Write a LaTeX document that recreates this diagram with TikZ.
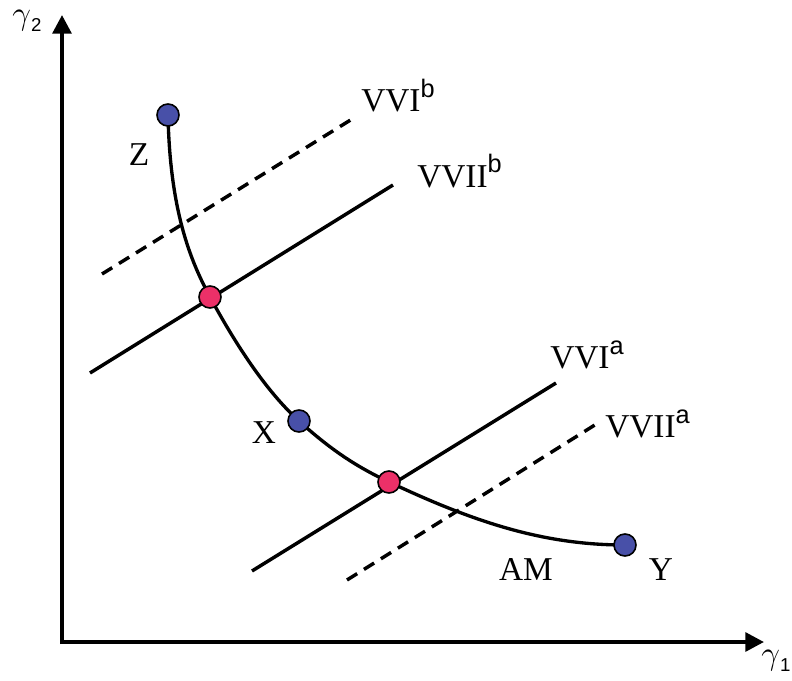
\documentclass[tikz,border=0pt]{standalone}
\usepackage{fontspec}
\setmainfont{Liberation Serif}
\setsansfont{Liberation Sans}
\usetikzlibrary{arrows.meta}
\definecolor{dotblue}{RGB}{72,80,168}
\definecolor{dotred}{RGB}{236,48,104}
\tikzset{
  axis/.style={line width=3pt,-{Triangle[length=14pt,width=14pt]}},
  curveline/.style={line width=2.5pt},
  solidline/.style={line width=2.6pt},
  dashline/.style={line width=2.6pt,dash pattern=on 9pt off 6pt},
  bdot/.style={circle,draw=black,line width=1.2pt,fill=dotblue,minimum size=16.5pt,inner sep=0pt},
  rdot/.style={circle,draw=black,line width=1.2pt,fill=dotred,minimum size=16.5pt,inner sep=0pt},
  lbl/.style={font=\fontsize{25}{28}\selectfont,inner sep=0pt},
  axlbl/.style={font=\fontsize{25}{27}\selectfont,inner sep=0pt},
}
\newcommand{\supx}[1]{\raisebox{0.42em}{\fontsize{19}{20}\selectfont\sffamily #1}}
\newcommand{\gsub}[1]{$\gamma$\raisebox{-0.2em}{\fontsize{14}{15}\selectfont\sffamily #1}}
\begin{document}
\begin{tikzpicture}[x=0.75pt,y=-0.75pt]
\useasboundingbox (0,0) rectangle (792,681);
% axes
\coordinate (O) at (62,642);
\coordinate (ytip) at (62,15);
\coordinate (xtip) at (764,642);
\draw[axis] ([yshift=-1.5pt]O) -- (ytip);
\draw[axis] ([xshift=-1.5pt]O) -- (xtip);
\node[axlbl] (g2) at (27,21) {\gsub{2}};
\node[axlbl] (g1) at (776,661) {\gsub{1}};
% lines
\coordinate (b1s) at (102,274); \coordinate (b1e) at (357,116);
\coordinate (b2s) at (90,373);  \coordinate (b2e) at (393,185);
\coordinate (a1s) at (252,571); \coordinate (a1e) at (556,383);
\coordinate (a2s) at (347,580); \coordinate (a2e) at (598,423);
\draw[dashline] (b1s) -- (b1e);
\draw[solidline] (b2s) -- (b2e);
\draw[solidline] (a1s) -- (a1e);
\draw[dashline] (a2s) -- (a2e);
% curve
\coordinate (Zp) at (168,115);
\coordinate (R1p) at (210,297);
\coordinate (Xp) at (299,421);
\coordinate (R2p) at (389,482);
\coordinate (Yp) at (625,545);
\draw[curveline] (Zp) .. controls (170,210) and (190,260) .. (R1p)
  .. controls (235,343) and (265,390) .. (Xp)
  .. controls (330,449) and (355,466) .. (R2p)
  .. controls (470,520) and (540,545) .. (Yp);
% dots
\node[bdot] (Z) at (Zp) {};
\node[bdot] (X) at (Xp) {};
\node[bdot] (Y) at (Yp) {};
\node[rdot] (R1) at (R1p) {};
\node[rdot] (R2) at (R2p) {};
% labels
\node[lbl] (zl) at (139,155) {Z};
\node[lbl] (xl) at (264,433) {X};
\node[lbl] (yl) at (661,570) {Y};
\node[lbl] (am) at (526,569) {AM};
\node[lbl,anchor=base west] (l1) at (361,112) {VVI\supx{b}};
\node[lbl,anchor=base west] (l2) at (417,187) {VVII\supx{b}};
\node[lbl,anchor=base west] (l3) at (550,368) {VVI\supx{a}};
\node[lbl,anchor=base west] (l4) at (605,437) {VVII\supx{a}};
\end{tikzpicture}
\end{document}
